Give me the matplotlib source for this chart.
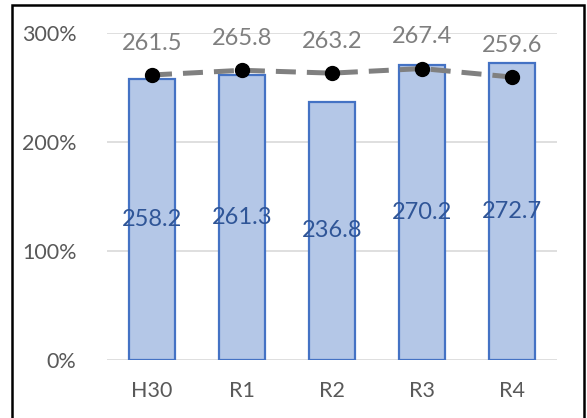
import numpy as np
import matplotlib.pyplot as plt
from matplotlib.patches import Rectangle

plt.rcParams['font.family'] = ['Lato', 'DejaVu Sans']

categories = ['H30', 'R1', 'R2', 'R3', 'R4']
bar_vals = [258.2, 261.3, 236.8, 270.2, 272.7]
line_vals = [261.5, 265.8, 263.2, 267.4, 259.6]
y_ticks = [0, 100, 200, 300]
y_tick_labels = ['0%', '100%', '200%', '300%']

fig = plt.figure(figsize=(5.87, 4.18), dpi=100)
ax = fig.add_axes([0.1823, 0.1388, 0.7666, 0.7822])

x = np.arange(len(categories))
bars = ax.bar(x, bar_vals, width=0.51, color='#B4C7E7', edgecolor='#4472C4',
              linewidth=1.6, zorder=2)
ax.plot(x, line_vals, color='#808080', linestyle=(0, (4, 2.2)), linewidth=3.6,
        zorder=3)
ax.plot(x, line_vals, 'o', color='black', markersize=10, zorder=4)

for xi, v in zip(x, bar_vals):
    ax.text(xi, v / 2, f'{v:.1f}', ha='center', va='center', fontsize=17,
            color='#2F5597', zorder=5)
for xi, v in zip(x, line_vals):
    ax.text(xi, v + 29, f'{v:.1f}', ha='center', va='center', fontsize=17,
            color='#7F7F7F', zorder=5)

ax.set_xlim(-0.5, len(categories) - 0.5)
ax.set_ylim(0, 300)
ax.set_yticks(y_ticks)
ax.set_yticklabels(y_tick_labels)
ax.set_xticks(x)
ax.set_xticklabels(categories)
ax.tick_params(axis='both', length=0, labelsize=15.5, labelcolor='#595959')
ax.tick_params(axis='y', pad=22)
ax.tick_params(axis='x', pad=15)
ax.grid(axis='y', color='#D9D9D9', linewidth=1.2, zorder=0)
ax.set_axisbelow(True)
for s in ax.spines.values():
    s.set_visible(False)

# outer frame, cut off at the bottom like the source image
frame = Rectangle((12 / 587, -0.05), (584 - 12) / 587, 1 - 5 / 418 + 0.05,
                  transform=fig.transFigure, fill=False, edgecolor='black',
                  linewidth=1.8, clip_on=False)
fig.patches.append(frame)

fig.savefig('out.png', dpi=100)
